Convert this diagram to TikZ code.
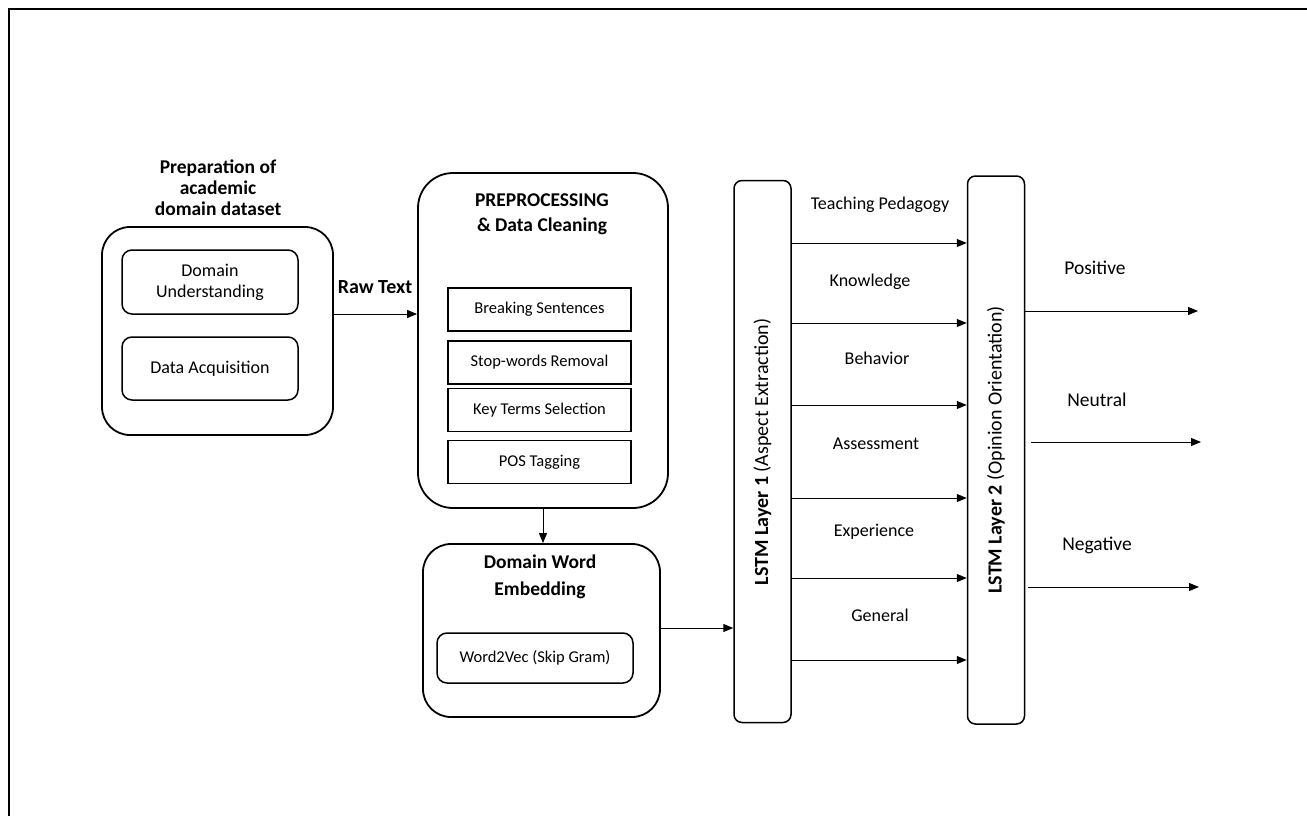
\documentclass[tikz,border=0pt]{standalone}
\usepackage{fontspec}
\setmainfont{Carlito}
\usetikzlibrary{arrows.meta, positioning}

\begin{document}
\begin{tikzpicture}[x=1pt, y=-1pt,
  outer/.style={draw, line width=1.8pt, rounded corners=28pt},
  inner/.style={draw, line width=1.5pt, rounded corners=10pt, align=center, font=\fontsize{18}{21}\selectfont},
  stepbox/.style={draw, line width=1.5pt, font=\fontsize{16.5}{19}\selectfont, minimum width=183pt, minimum height=43pt},
  lstm/.style={draw, line width=1.5pt, rounded corners=8pt, minimum width=57pt},
  title/.style={font=\bfseries\fontsize{19.5}{21}\selectfont, align=center},
  lbl/.style={font=\fontsize{18}{21}\selectfont},
  arr/.style={-{Triangle[length=10pt, width=8pt]}, line width=1pt}]
  \useasboundingbox (0,0) rectangle (1307,816);
  % frame
  \draw[line width=1.5pt] (9,816) -- (9,9) -- (1307,9);

  % dataset preparation
  \node[title] (preptitle) at (218,188) {Preparation of\\academic\\domain dataset};
  \node[outer, minimum width=231pt, minimum height=208pt] (prep) at (217.5,331) {};
  \node[inner, minimum width=176pt, minimum height=64pt] (understand) at (210,282) {Domain\\Understanding};
  \node[inner, minimum width=176pt, minimum height=63pt] (acquire) at (210,368.5) {Data Acquisition};

  % preprocessing
  \node[outer, rounded corners=35pt, minimum width=250pt, minimum height=335pt] (preproc) at (543,340.5) {};
  \node[title, font=\bfseries\fontsize{19.5}{25}\selectfont] (pretitle) at (542,214.5) {PREPROCESSING\\\& Data Cleaning};
  \foreach \y/\nm/\txt in {309.5/break/Breaking Sentences, 362.5/stop/Stop-words Removal,
                           410/keys/Key Terms Selection, 462/pos/POS Tagging} {
    \node[stepbox] (\nm) at (539.5,\y) {\txt};
  }

  % embedding
  \node[outer, minimum width=237pt, minimum height=173pt] (embed) at (541.5,630.5) {};
  \node[title, font=\bfseries\fontsize{19.5}{27}\selectfont] (embtitle) at (540,576.5) {Domain Word\\Embedding};
  \node[inner, font=\fontsize{16.5}{19}\selectfont, minimum width=196pt, minimum height=50pt] (w2v) at (535,658) {Word2Vec (Skip Gram)};

  % LSTM layers
  \node[lstm, minimum height=542pt] (lstmA) at (762.5,451.5) {};
  \node[lbl, font=\fontsize{20}{22}\selectfont, rotate=90] (lstmAtext) at (762.5,452) {\textbf{LSTM Layer 1} (Aspect Extraction)};
  \node[lstm, minimum height=548pt] (lstmB) at (996,450) {};
  \node[lbl, font=\fontsize{20}{22}\selectfont, rotate=90] (lstmBtext) at (996,450) {\textbf{LSTM Layer 2} (Opinion Orientation)};

  % connectors
  \node[font=\bfseries\fontsize{20}{22}\selectfont] (raw) at (375,287) {Raw Text};
  \draw[arr] (prep.east |- 0,314) -- (preproc.west |- 0,314);
  \draw[arr] (preproc.south) -- (preproc.south |- embed.north);
  \draw[arr] (embed.east |- 0,628) -- (lstmA.west |- 0,628);

  % aspects
  \foreach \y/\ly/\lx/\txt in {243/205/880/Teaching Pedagogy, 323/282/870/Knowledge,
                              405/358/877/Behavior, 498/444/876/Assessment,
                              578/532/874/Experience, 660/615/880/General} {
    \node[lbl] at (\lx,\ly) {\txt};
    \draw[arr] (lstmA.east |- 0,\y) -- (lstmB.west |- 0,\y);
  }

  % polarity outputs
  \coordinate (outpos) at (1198,311);
  \coordinate (outneu) at (1201,442);
  \coordinate (outneg) at (1199,587);
  \node[lbl, font=\fontsize{19.5}{22}\selectfont] (pos) at (1095,268) {Positive};
  \node[lbl, font=\fontsize{19.5}{22}\selectfont] (neu) at (1097,400) {Neutral};
  \node[lbl, font=\fontsize{19.5}{22}\selectfont] (neg) at (1097,545) {Negative};
  \draw[arr] (lstmB.east |- outpos) -- (outpos);
  \draw[arr, shorten <=6pt] (lstmB.east |- outneu) -- (outneu);
  \draw[arr, shorten <=3pt] (lstmB.east |- outneg) -- (outneg);
\end{tikzpicture}
\end{document}
